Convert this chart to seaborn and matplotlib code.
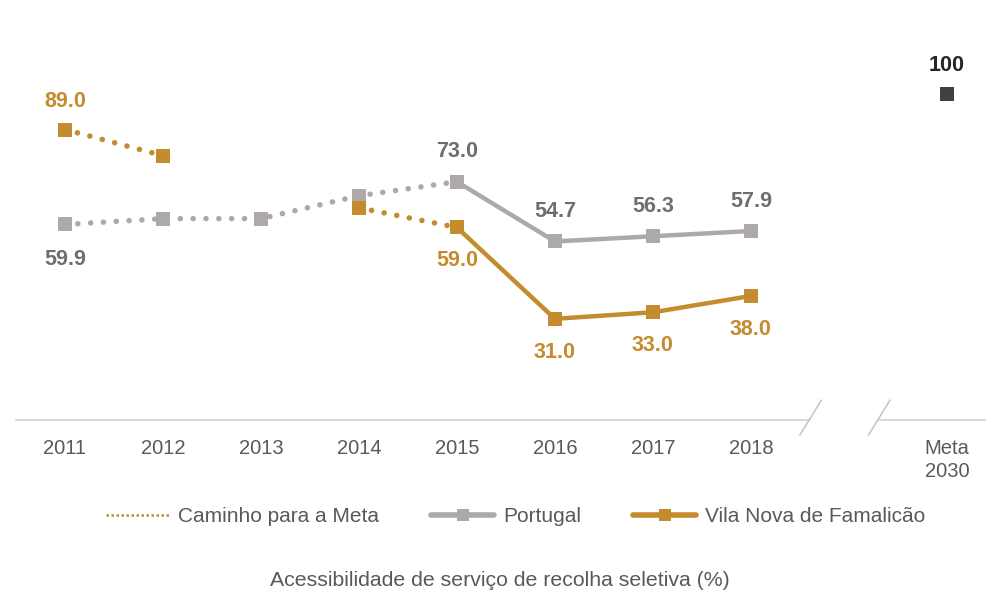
import numpy as np
import matplotlib.pyplot as plt
import seaborn as sns
from matplotlib.lines import Line2D

# dados
anos = ['2011', '2012', '2013', '2014', '2015', '2016', '2017', '2018']
portugal = [59.9, 61.7, 61.7, 68.7, 73.0, 54.7, 56.3, 57.9]
famalicao = [89.0, 81.0, np.nan, 65.0, 59.0, 31.0, 33.0, 38.0]
meta_label = 'Meta\n2030'
meta_valor = 100

# cores
OURO = '#C48B2F'
CINZA = '#ADA9A9'
CINZA_TXT = '#6E6E6E'
TXT = '#595959'

sns.set_theme(style='white')
plt.rcParams['font.family'] = ['Liberation Sans', 'DejaVu Sans']

fig = plt.figure(figsize=(9.86, 5.94), dpi=100)
ax = fig.add_axes([16 / 986, 174 / 594, 973 / 986, 408 / 594])

x = list(range(len(anos)))
x_meta = len(anos) + 1

dot = dict(linestyle=(0, (0.01, 2.3)), dash_capstyle='round', linewidth=4.0,
           marker='s', markersize=10, markeredgewidth=0)
solid = dict(linewidth=3.2, marker='s', markersize=10, markeredgewidth=0)

# Portugal: caminho (pontilhado) até 2015, depois sólido
sns.lineplot(x=x[:5], y=portugal[:5], color=CINZA, ax=ax, **dot)
sns.lineplot(x=x[4:], y=portugal[4:], color=CINZA, ax=ax, **solid)

# Vila Nova de Famalicão
sns.lineplot(x=x[0:2], y=famalicao[0:2], color=OURO, ax=ax, **dot)
sns.lineplot(x=x[3:5], y=famalicao[3:5], color=OURO, ax=ax, **dot)
sns.lineplot(x=x[4:], y=famalicao[4:], color=OURO, ax=ax, **solid)

# meta
ax.plot([x_meta], [meta_valor], marker='s', markersize=10, color='#404040',
        markeredgewidth=0, linestyle='none')

# rótulos
def rotulo(xi, yi, txt, cor, dy):
    ax.annotate(txt, (xi, yi), xytext=(0, dy), textcoords='offset points',
                ha='center', va='center', fontsize=15.5, fontweight='bold', color=cor)

rotulo(0, portugal[0], f'{portugal[0]:.1f}', CINZA_TXT, -25)
for i in range(4, 8):
    rotulo(i, portugal[i], f'{portugal[i]:.1f}', CINZA_TXT, 21.5)
rotulo(0, famalicao[0], f'{famalicao[0]:.1f}', OURO, 20.5)
for i in range(4, 8):
    rotulo(i, famalicao[i], f'{famalicao[i]:.1f}', OURO, -24)
rotulo(x_meta, meta_valor, f'{meta_valor}', '#262626', 20)

# eixo com quebra
ax.set_xlim(-0.5, 9.43)
ax.set_ylim(0, 125)
for s in ax.spines.values():
    s.set_visible(False)
ax.plot([-0.5, 7.6], [0, 0], color='#D9D9D9', linewidth=1.5, clip_on=False, zorder=0)
ax.plot([8.3, 9.43], [0, 0], color='#D9D9D9', linewidth=1.5, clip_on=False, zorder=0)
ax.plot([7.5, 7.72], [-4.6, 6.1], color='#C8C8C8', linewidth=1.2, clip_on=False)
ax.plot([8.2, 8.42], [-4.6, 6.1], color='#C8C8C8', linewidth=1.2, clip_on=False)

ax.set_xticks(x + [x_meta])
ax.set_xticklabels(anos + [meta_label], fontsize=14.5, color=TXT, linespacing=1.25)
ax.tick_params(axis='x', length=0, pad=14)
ax.set_yticks([])
ax.grid(False)

# legenda
handles = [
    Line2D([], [], color=OURO, linestyle=(0, (1, 1)), linewidth=1.8),
    Line2D([], [], color=CINZA, linewidth=4, marker='s', markersize=9, markeredgewidth=0),
    Line2D([], [], color=OURO, linewidth=4, marker='s', markersize=9, markeredgewidth=0),
]
fig.legend(handles, ['Caminho para a Meta', 'Portugal', 'Vila Nova de Famalicão'],
           loc='center', bbox_to_anchor=(516 / 986, 1 - 517 / 594), ncol=3, frameon=False,
           fontsize=15, labelcolor=TXT, handlelength=3.0, handletextpad=0.45,
           columnspacing=2.5)

fig.text(500 / 986, 1 - 580 / 594, 'Acessibilidade de serviço de recolha seletiva (%)',
         ha='center', va='center', fontsize=15.3, color=TXT)

fig.savefig('out.png', dpi=100)
